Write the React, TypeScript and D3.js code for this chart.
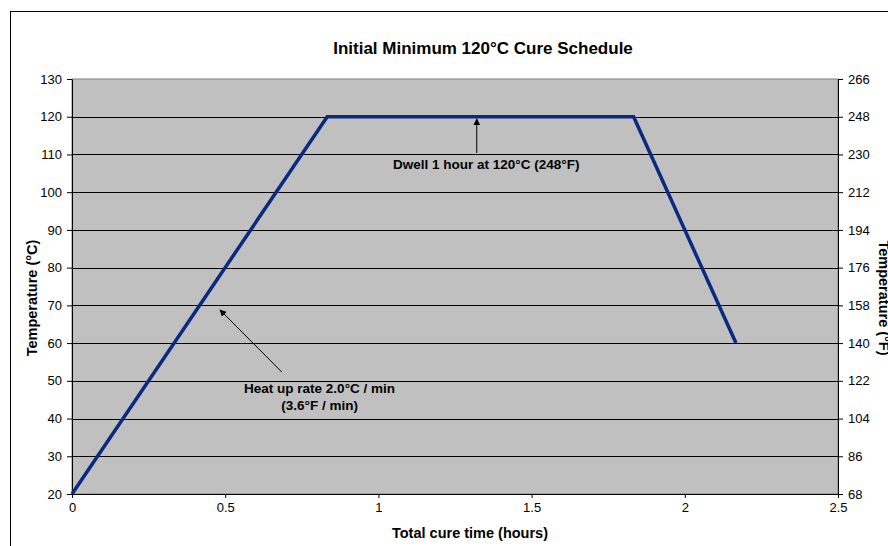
import React, { useEffect, useRef } from 'react';
import * as d3 from 'd3';

// cure profile: time (hours) vs temperature (°C)
const timeHours = [0, 0.833, 1.833, 2.167];
const tempC = [20, 120, 120, 60];

const yTicksC = [20, 30, 40, 50, 60, 70, 80, 90, 100, 110, 120, 130];
const yTicksF = [68, 86, 104, 122, 140, 158, 176, 194, 212, 230, 248, 266];
const xTicks = [0, 0.5, 1, 1.5, 2, 2.5];

// annotations in data coordinates
const dwellText = ['Dwell 1 hour at 120°C (248°F)'];
const dwellArrow = [
  [1.321, 110.4],
  [1.321, 119.4],
];
const dwellTextPos = [1.352, 106.1];

const heatText = ['Heat up rate 2.0°C / min', '(3.6°F / min)'];
const heatArrow = [
  [0.685, 52.3],
  [0.483, 68.8],
];
const heatTextPos = [0.808, 46.8];

const App = () => {
  const svgRef = useRef<SVGSVGElement>(null);

  useEffect(() => {
    const svg = d3.select(svgRef.current);
    const width = 888;
    const height = 546;
    const m = { left: 72, top: 79 };
    const innerW = 838 - m.left;
    const innerH = 494 - m.top;

    svg.selectAll('*').remove();
    svg.attr('width', width).attr('height', height);

    const font = '"Liberation Sans", Arial, sans-serif';

    // outer chart frame (cut off at right/bottom)
    svg
      .append('rect')
      .attr('x', 10.5)
      .attr('y', 11.5)
      .attr('width', 900)
      .attr('height', 600)
      .attr('fill', '#fff')
      .attr('stroke', '#000')
      .attr('stroke-width', 1);

    const x = d3.scaleLinear().domain([0, 2.5]).range([0, innerW]);
    const y = d3.scaleLinear().domain([20, 130]).range([innerH, 0]);
    const yF = d3.scaleLinear().domain([68, 266]).range([innerH, 0]);

    const g = svg.append('g').attr('transform', `translate(${m.left},${m.top})`);

    // plot area
    g.append('rect')
      .attr('width', innerW)
      .attr('height', innerH)
      .attr('fill', '#c0c0c0')
      .attr('stroke', '#808080');

    // gridlines
    g.selectAll('.grid')
      .data(yTicksC.slice(1, -1))
      .enter()
      .append('line')
      .attr('x1', 0)
      .attr('x2', innerW)
      .attr('y1', (d) => Math.round(y(d)) + 0.5)
      .attr('y2', (d) => Math.round(y(d)) + 0.5)
      .attr('stroke', '#000')
      .attr('stroke-width', 1);

    // axes
    const styleAxis = (sel) => {
      sel.select('.domain').attr('stroke', '#000');
      sel.selectAll('.tick line').attr('stroke', '#000');
      sel
        .selectAll('.tick text')
        .attr('fill', '#000')
        .style('font-family', font)
        .style('font-size', '13px');
    };

    g.append('g')
      .call(
        d3.axisLeft(y).tickValues(yTicksC).tickSize(5).tickSizeOuter(0).tickPadding(5)
      )
      .call(styleAxis);

    g.append('g')
      .attr('transform', `translate(${innerW},0)`)
      .call(
        d3.axisRight(yF).tickValues(yTicksF).tickSize(5).tickSizeOuter(0).tickPadding(5)
      )
      .call(styleAxis);

    g.append('g')
      .attr('transform', `translate(0,${innerH})`)
      .call(
        d3
          .axisBottom(x)
          .tickValues(xTicks)
          .tickFormat((d) => String(d))
          .tickSize(4)
          .tickSizeOuter(0)
          .tickPadding(5)
      )
      .call(styleAxis);

    // profile line
    const line = d3
      .line()
      .x((d) => x(d[0]))
      .y((d) => y(d[1]));

    g.append('path')
      .datum(timeHours.map((t, i) => [t, tempC[i]]))
      .attr('fill', 'none')
      .attr('stroke', '#0a2a80')
      .attr('stroke-width', 3.5)
      .attr('stroke-linejoin', 'miter')
      .attr('d', line);

    // arrow marker
    svg
      .append('defs')
      .append('marker')
      .attr('id', 'arrow')
      .attr('viewBox', '0 0 10 10')
      .attr('refX', 9)
      .attr('refY', 5)
      .attr('markerWidth', 7)
      .attr('markerHeight', 7)
      .attr('markerUnits', 'userSpaceOnUse')
      .attr('orient', 'auto')
      .append('path')
      .attr('d', 'M0,0 L10,5 L0,10 z')
      .attr('fill', '#000');

    [dwellArrow, heatArrow].forEach((arr) => {
      g.append('line')
        .attr('x1', x(arr[0][0]))
        .attr('y1', y(arr[0][1]))
        .attr('x2', x(arr[1][0]))
        .attr('y2', y(arr[1][1]))
        .attr('stroke', '#000')
        .attr('stroke-width', 1)
        .attr('marker-end', 'url(#arrow)');
    });

    const label = (lines, pos) => {
      lines.forEach((t, i) => {
        g.append('text')
          .attr('x', x(pos[0]))
          .attr('y', y(pos[1]) + i * 17)
          .attr('text-anchor', 'middle')
          .style('font-family', font)
          .style('font-size', '13.5px')
          .style('font-weight', 'bold')
          .text(t);
      });
    };
    label(dwellText, dwellTextPos);
    label(heatText, heatTextPos);

    // titles
    svg
      .append('text')
      .attr('x', 483)
      .attr('y', 54)
      .attr('text-anchor', 'middle')
      .style('font-family', font)
      .style('font-size', '17px')
      .style('font-weight', 'bold')
      .text('Initial Minimum 120°C Cure Schedule');

    svg
      .append('text')
      .attr('x', 470)
      .attr('y', 538)
      .attr('text-anchor', 'middle')
      .style('font-family', font)
      .style('font-size', '14.5px')
      .style('font-weight', 'bold')
      .text('Total cure time (hours)');

    svg
      .append('text')
      .attr('transform', 'translate(37,298) rotate(-90)')
      .attr('text-anchor', 'middle')
      .style('font-family', font)
      .style('font-size', '14.5px')
      .style('font-weight', 'bold')
      .text('Temperature (°C)');

    svg
      .append('text')
      .attr('transform', 'translate(879,298) rotate(90)')
      .attr('text-anchor', 'middle')
      .style('font-family', font)
      .style('font-size', '14.5px')
      .style('font-weight', 'bold')
      .text('Temperature (°F)');
  }, []);

  return (
    <svg ref={svgRef} style={{ position: 'absolute', left: 0, top: 0 }} />
  );
};

export default App;
